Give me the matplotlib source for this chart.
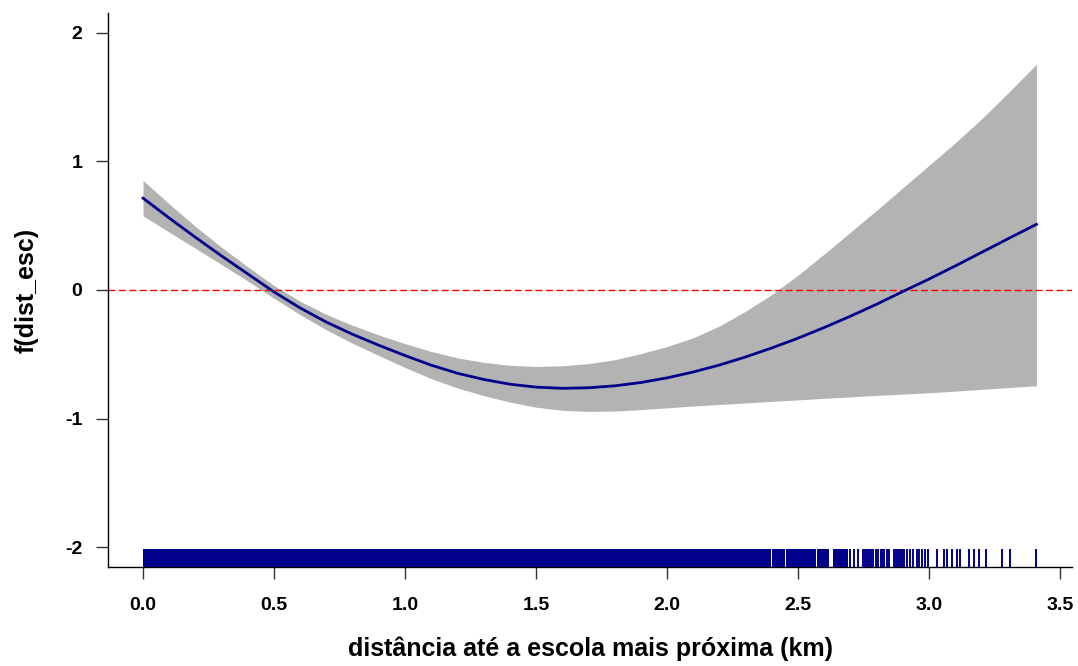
import matplotlib
matplotlib.use("Agg")
import numpy as np
from matplotlib import pyplot as plt

# ---------------------------------------------
# Data (smooth term of a GAM)
# ---------------------------------------------
dist = [0.0, 0.1, 0.2, 0.3, 0.4, 0.5, 0.6, 0.7, 0.8, 0.9,
        1.0, 1.1, 1.2, 1.3, 1.4, 1.5, 1.6, 1.7, 1.8, 1.9,
        2.0, 2.1, 2.2, 2.3, 2.4, 2.5, 2.6, 2.7, 2.8, 2.9,
        3.0, 3.1, 3.2, 3.3, 3.41]

fit = [0.715, 0.56, 0.41, 0.265, 0.125, -0.015, -0.14, -0.25, -0.345, -0.43,
       -0.51, -0.585, -0.648, -0.696, -0.733, -0.756, -0.765, -0.761, -0.746, -0.72,
       -0.684, -0.638, -0.584, -0.521, -0.451, -0.375, -0.292, -0.204, -0.111, -0.012,
       0.085, 0.187, 0.292, 0.397, 0.511]

upper = [0.853, 0.67, 0.495, 0.332, 0.18, 0.035, -0.088, -0.19, -0.275, -0.35,
         -0.417, -0.478, -0.528, -0.563, -0.586, -0.595, -0.59, -0.573, -0.543, -0.495,
         -0.44, -0.372, -0.28, -0.165, -0.035, 0.115, 0.28, 0.45, 0.62, 0.795,
         0.97, 1.145, 1.33, 1.53, 1.756]

lower = [0.577, 0.45, 0.325, 0.198, 0.07, -0.065, -0.192, -0.31, -0.415, -0.51,
         -0.603, -0.69, -0.762, -0.822, -0.872, -0.912, -0.936, -0.945, -0.942, -0.931,
         -0.917, -0.903, -0.891, -0.879, -0.867, -0.855, -0.843, -0.832, -0.82, -0.81,
         -0.80, -0.787, -0.773, -0.76, -0.745]

# rug: ranges where observations are packed solid, then single observations
rug_dense = [(0.0, 2.396), (2.399, 2.452), (2.455, 2.568),
             (2.571, 2.619), (2.632, 2.692)]
rug_single = [2.700, 2.712, 2.730, 2.747, 2.755, 2.762, 2.770, 2.778, 2.786,
              2.797, 2.805, 2.815, 2.822, 2.830, 2.838, 2.846, 2.866, 2.873,
              2.881, 2.888, 2.896, 2.905, 2.915, 2.927, 2.940, 2.953, 2.963,
              2.972, 2.985, 2.997, 3.029, 3.059, 3.067, 3.087, 3.106, 3.118,
              3.154, 3.172, 3.192, 3.218, 3.277, 3.309, 3.407]

xticks = [0.0, 0.5, 1.0, 1.5, 2.0, 2.5, 3.0, 3.5]
yticks = [-2, -1, 0, 1, 2]

# ---------------------------------------------
# Figure
# ---------------------------------------------
plt.rcParams["font.family"] = ["Liberation Sans", "DejaVu Sans"]
plt.rcParams["font.weight"] = "bold"

fig = plt.figure(figsize=(10.78, 6.66), dpi=100)
ax = fig.add_axes([108 / 1078, 99 / 666, 964 / 1078, 554 / 666])

ax.fill_between(dist, lower, upper, color="#B3B3B3", linewidth=0, zorder=1)
ax.plot(dist, fit, color="#00008B", lw=2.0, zorder=3)
ax.axhline(0, color="red", lw=1.0, dashes=(5, 2.5), zorder=2)

# rug
rug_h = 0.033
for x0, x1 in rug_dense:
    ax.axvspan(x0, x1, ymin=0, ymax=rug_h, color="#00008B", lw=0, zorder=4)
ax.vlines(rug_single, 0, rug_h, transform=ax.get_xaxis_transform(),
          color="#00008B", lw=1.4, zorder=4)

# ---------------------------------------------
# Axes styling (R bty="l")
# ---------------------------------------------
ax.set_xlim(-0.1336, 3.5458)
ax.set_ylim(-2.1556, 2.1556)
for side in ["top", "right"]:
    ax.spines[side].set_visible(False)
for side in ["left", "bottom"]:
    ax.spines[side].set_linewidth(1.0)

ax.set_xticks(xticks)
ax.set_xticklabels([f"{t:.1f}" for t in xticks])
ax.set_yticks(yticks)
ax.set_yticklabels([str(t) for t in yticks])
ax.tick_params(length=8.5, width=1.0, labelsize=14, color="#333333")
ax.tick_params(axis="x", pad=13)
ax.tick_params(axis="y", pad=10)

ax.set_xlabel("distância até a escola mais próxima (km)", fontsize=18,
              fontweight="bold", labelpad=16)
ax.set_ylabel("f(dist_esc)", fontsize=18, fontweight="bold", labelpad=19)

fig.savefig("out.png", dpi=100)
